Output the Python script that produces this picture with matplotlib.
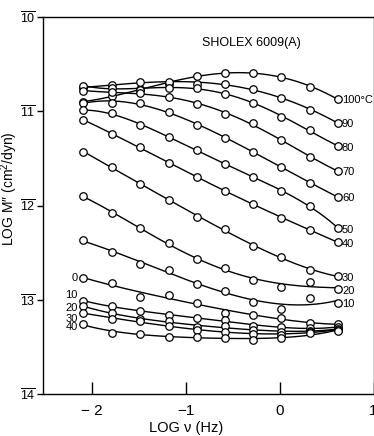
import numpy as np
import matplotlib
matplotlib.use("Agg")
import matplotlib.pyplot as plt

# log frequency (Hz) of the measurement points
log_nu = [-2.09, -1.79, -1.49, -1.18, -0.88, -0.58, -0.28, 0.02, 0.32, 0.62]

temps = [100, 90, 80, 70, 60, 50, 40, 30, 20, 10, 0, -10, -20, -30, -40]

# log M'' (cm^2/dyn) for each temperature
m100 = [-10.90, -10.84, -10.76, -10.71, -10.63, -10.59, -10.59, -10.64, -10.74, -10.87]
m90 = [-10.75, -10.72, -10.69, -10.69, -10.71, -10.71, -10.76, -10.86, -10.99, -11.12]
m80 = [-10.73, -10.75, -10.77, -10.75, -10.75, -10.82, -10.91, -11.06, -11.20, -11.37]
m70 = [-10.78, -10.80, -10.81, -10.85, -10.92, -11.03, -11.12, -11.31, -11.49, -11.63]
m60 = [-10.91, -10.91, -10.91, -11.01, -11.15, -11.28, -11.43, -11.59, -11.76, -11.91]
m50 = [-10.99, -11.02, -11.15, -11.27, -11.41, -11.56, -11.70, -11.85, -12.00, -12.24]
m40 = [-11.09, -11.24, -11.38, -11.55, -11.70, -11.85, -11.98, -12.13, -12.26, -12.39]
m30 = [-11.43, -11.59, -11.77, -11.94, -12.12, -12.25, -12.43, -12.55, -12.68, -12.75]
m20 = [-11.90, -12.08, -12.24, -12.40, -12.57, -12.66, -12.79, -12.87, -12.81, -12.89]
m10 = [-12.37, -12.49, -12.62, -12.68, -12.83, -12.91, -13.02, -13.10, -12.98, -13.03]
m0 = [-12.77, -12.82, -12.97, -12.95, -13.03, -13.14, -13.16, -13.19, -13.25, -13.26]
mm10 = [-13.01, -13.07, -13.12, -13.16, -13.19, -13.22, -13.28, -13.29, -13.30, -13.29]
mm20 = [-13.07, -13.14, -13.20, -13.23, -13.29, -13.28, -13.32, -13.34, -13.33, -13.31]
mm30 = [-13.14, -13.20, -13.23, -13.28, -13.32, -13.34, -13.36, -13.37, -13.34, -13.32]
mm40 = [-13.26, -13.35, -13.36, -13.39, -13.39, -13.41, -13.43, -13.41, -13.35, -13.33]

series = [m100, m90, m80, m70, m60, m50, m40, m30, m20, m10, m0, mm10, mm20, mm30, mm40]

right_labels = {100: "100°C", 90: "90", 80: "80", 70: "70", 60: "60", 50: "50",
                40: "40", 30: "30", 20: "20", 10: "10"}
left_labels = {0: "0", -10: "10", -20: "20", -30: "30", -40: "40"}

xticks = [-2, -1, 0, 1]
xtick_labels = ["\u2212 2", "\u22121", "0", "1"]
yticks = [-10, -11, -12, -13, -14]
ytick_labels = [r"$\overline{\mathrm{10}}$", r"$\overline{\mathrm{11}}$",
                r"$\overline{\mathrm{12}}$", r"$\overline{\mathrm{13}}$",
                r"$\overline{\mathrm{14}}$"]

plt.rcParams['font.family'] = ['Liberation Sans', 'DejaVu Sans']
plt.rcParams['mathtext.fontset'] = 'custom'
plt.rcParams['mathtext.rm'] = 'Liberation Sans'
plt.rcParams['mathtext.it'] = 'Liberation Sans:italic'
plt.rcParams['mathtext.bf'] = 'Liberation Sans:bold'

W, H = 374, 436
fig = plt.figure(figsize=(W / 100, H / 100), dpi=100)
ax = fig.add_axes([43 / W, 1 - 394 / H, (373.5 - 43) / W, (394 - 17) / H])

x = np.array(log_nu)
xs = np.linspace(x[0], x[-1], 200)
for t, ys in zip(temps, series):
    y = np.array(ys)
    c = np.polyfit(x, y, 4)
    ax.plot(xs, np.polyval(c, xs), color='black', lw=1.0, zorder=2)
    ax.plot(x, y, 'o', ms=5.4, mfc='white', mec='black', mew=0.9, zorder=3)
    if t in right_labels:
        ax.annotate(right_labels[t], (x[-1], y[-1]), xytext=(3, -1),
                    textcoords='offset points', ha='left', va='center', fontsize=8)
    if t in left_labels:
        dy = {0: 0, -10: 4, -20: -1, -30: -4, -40: -2}[t]
        ax.annotate(left_labels[t], (x[0], y[0]), xytext=(-4, dy),
                    textcoords='offset points', ha='right', va='center', fontsize=8)

ax.set_xlim(-2.52, 1.0)
ax.set_ylim(-14, -10)
ax.set_xticks(xticks)
ax.set_xticklabels(xtick_labels, fontsize=11)
ax.set_yticks(yticks)
ax.set_yticklabels(ytick_labels, fontsize=9)
ax.tick_params(axis='x', direction='in', length=9, width=1.0, pad=7)
ax.tick_params(axis='y', direction='out', length=4, width=1.0, pad=1)
for s in ax.spines.values():
    s.set_linewidth(1.0)

ax.text(0.48, 0.93, "SHOLEX 6009(A)", transform=ax.transAxes, fontsize=9,
        ha='left', va='center')

fig.text(9.5 / W, 1 - 189 / H, "LOG M\u2033 (cm$^2$/dyn)", rotation=90,
         ha='center', va='center', fontsize=10)
fig.text(186 / W, 1 - 428 / H, "LOG \u03bd (Hz)", ha='center', va='center',
         fontsize=10.5)

fig.savefig("out.png", dpi=100)
